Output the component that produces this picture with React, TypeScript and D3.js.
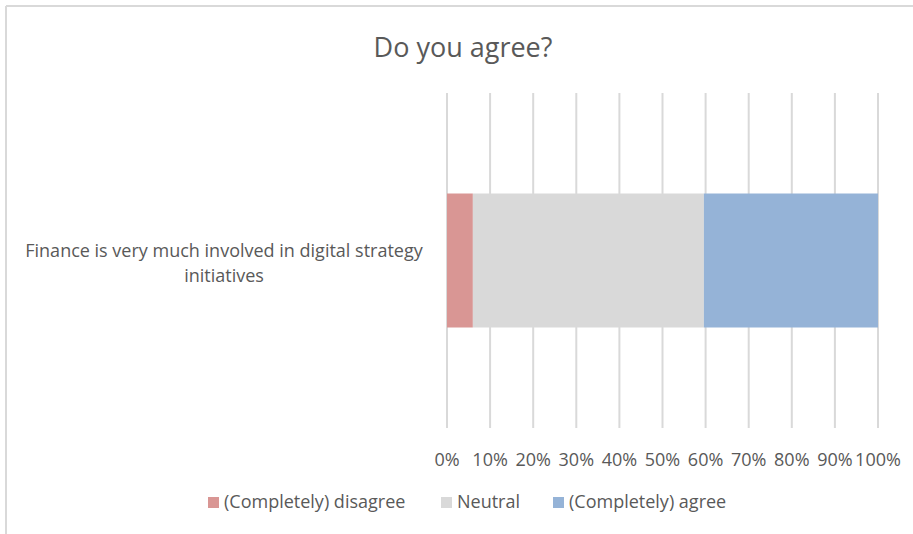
import React from "react";
import * as d3 from "d3";

const categories = ["Finance is very much involved in digital strategy initiatives"];
const categoryLines = [["Finance is very much involved in digital strategy", "initiatives"]];
const seriesNames = ["(Completely) disagree", "Neutral", "(Completely) agree"];
const seriesColors = ["#d99694", "#d9d9d9", "#95b3d7"];
const disagree = [0.06];
const neutral = [0.536];
const agree = [0.404];
const tickValues = [0, 0.1, 0.2, 0.3, 0.4, 0.5, 0.6, 0.7, 0.8, 0.9, 1.0];

const W = 913;
const H = 534;
const FONT = "'Open Sans', sans-serif";
const TEXT = "#595959";

export default function App() {
  const x = d3.scaleLinear().domain([0, 1]).range([447, 878]);
  const y = d3.scaleBand().domain(categories).range([93, 428]).paddingInner(0.6).paddingOuter(0.3);
  const rows = categories.map((c, i) => ({ cat: c, vals: [disagree[i], neutral[i], agree[i]] }));
  const stack = d3.stack<any>().keys(["0", "1", "2"]).value((d: any, k: string) => d.vals[+k]);
  const stacked = stack(rows);
  const fmt = d3.format(".0%");
  const legendX = [208, 441, 553];

  return (
    <svg width={W} height={H} style={{ position: "absolute", left: 0, top: 0, fontFamily: FONT }}>
      <rect x={0} y={0} width={W} height={H} fill="#fff" />
      <line x1={6} x2={W} y1={6} y2={6} stroke="#d9d9d9" strokeWidth={2} />
      <line x1={6} x2={6} y1={6} y2={H} stroke="#d9d9d9" strokeWidth={2} />
      <text x={463} y={57} textAnchor="middle" fontSize={27} fill={TEXT}>Do you agree?</text>
      {tickValues.map((t) => (
        <line key={t} x1={x(t)} x2={x(t)} y1={93} y2={428} stroke="#d9d9d9" strokeWidth={2} />
      ))}
      {stacked.map((s, si) =>
        s.map((d, i) => (
          <rect key={si + "-" + i} x={x(d[0])} width={x(d[1]) - x(d[0])} y={y(categories[i])} height={y.bandwidth()} fill={seriesColors[si]} />
        ))
      )}
      {tickValues.map((t) => (
        <text key={"l" + t} x={x(t)} y={466} textAnchor="middle" fontSize={18} fill={TEXT}>{fmt(t)}</text>
      ))}
      {categories.map((c, i) => (
        <text key={c} textAnchor="middle" fontSize={18} fill={TEXT}>
          {categoryLines[i].map((ln, j) => (
            <tspan key={j} x={224} y={(y(c) as number) + y.bandwidth() / 2 - 4 + j * 25}>{ln}</tspan>
          ))}
        </text>
      ))}
      {seriesNames.map((n, i) => (
        <g key={n}>
          <rect x={legendX[i]} y={497} width={11} height={11} fill={seriesColors[i]} />
          <text x={legendX[i] + 16} y={508} fontSize={18} fill={TEXT}>{n}</text>
        </g>
      ))}
    </svg>
  );
}
